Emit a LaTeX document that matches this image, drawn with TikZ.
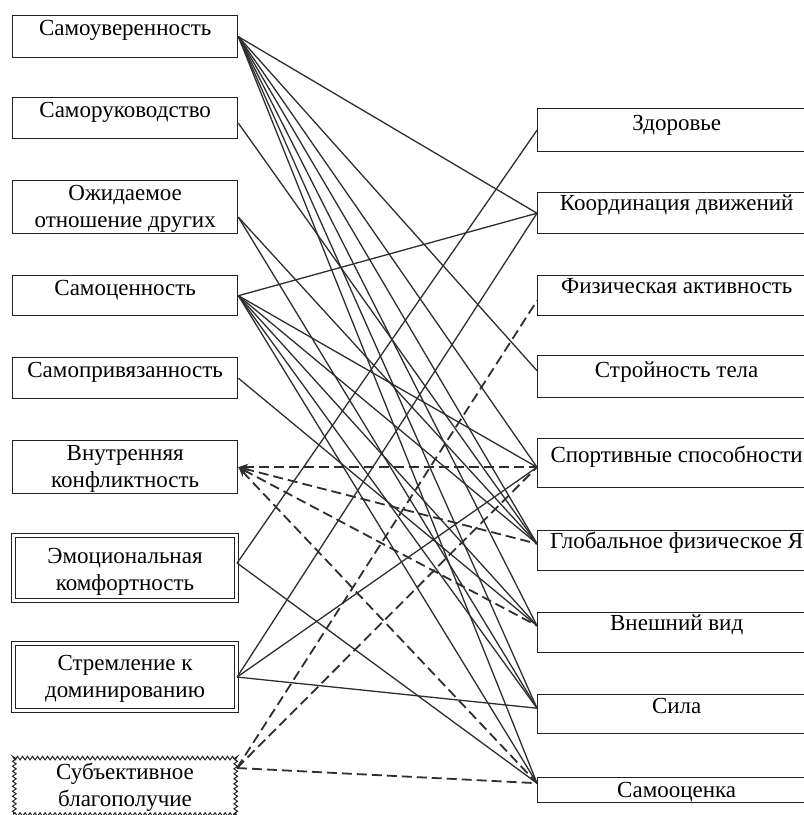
\documentclass[tikz,border=0pt]{standalone}
\usepackage{fontspec}
\setmainfont{Liberation Serif}
\usetikzlibrary{arrows.meta,decorations.pathmorphing}
\definecolor{Ink}{HTML}{222222}
\definecolor{LineInk}{HTML}{2E2E2E}
\tikzset{
  scalebox/.style={draw=Ink,line width=1.4pt,inner xsep=0pt,inner ysep=0pt,align=center,anchor=north west,font=\fontsize{23}{27}\selectfont},
  leftbox/.style={scalebox,minimum width=225pt},
  rightbox/.style={scalebox,minimum width=278pt},
  doublebox/.style={leftbox,minimum width=223pt,double=white,double distance=2.2pt,line width=1.1pt},
  wavybox/.style={leftbox,minimum width=223pt,line width=1pt,decorate,decoration={snake,segment length=5pt,amplitude=1.8pt}},
  link/.style={draw=LineInk,line width=1.3pt},
  dlink/.style={draw=LineInk,line width=1.8pt,dash pattern=on 10pt off 5pt},
  backlink/.style={dlink,{Stealth[length=10pt,width=7pt]}-}
}
\begin{document}
\begin{tikzpicture}[x=1pt,y=-1pt]
\clip (0,0) rectangle (804,815);
% scales of the self-attitude questionnaire
\node[leftbox,text height=20pt,text depth=22pt] (su) at (12,15) {Самоуверенность};
\node[leftbox,text height=20pt,text depth=21pt] (sr) at (12,97) {Саморуководство};
\node[leftbox,text height=47pt,text depth=6pt] (oz) at (12,180) {Ожидаемое\\отношение других};
\node[leftbox,text height=20pt,text depth=20pt] (sc) at (12,275) {Самоценность};
\node[leftbox,text height=20pt,text depth=21pt] (sp) at (12,357) {Самопривязанность};
\node[leftbox,text height=47pt,text depth=6pt] (vk) at (12,440) {Внутренняя\\конфликтность};
\node[doublebox,text height=55pt,text depth=10pt] (ek) at (13,535) {Эмоциональная\\комфортность};
\node[doublebox,text height=54pt,text depth=13pt] (sd) at (13,643) {Стремление к\\доминированию};
\node[wavybox,text height=53pt,text depth=8pt] (sb) at (13,753) {Субъективное\\благополучие};
% physical self-description scales
\node[rightbox,text height=22pt,text depth=21pt] (zd) at (537,108) {Здоровье};
\node[rightbox,text height=18pt,text depth=23pt] (kd) at (537,192) {Координация движений};
\node[rightbox,text height=18pt,text depth=22pt] (fa) at (537,275) {Физическая активность};
\node[rightbox,text height=22pt,text depth=20pt] (st) at (537,355) {Стройность тела};
\node[rightbox,text height=24pt,text depth=25pt] (ss) at (537,438) {Спортивные способности};
\node[rightbox,text height=18pt,text depth=22pt] (gf) at (537,530) {Глобальное физическое Я};
\node[rightbox,text height=18pt,text depth=22pt] (vv) at (537,612) {Внешний вид};
\node[rightbox,text height=19pt,text depth=20pt] (sl) at (537,694) {Сила};
\node[rightbox,text height=20pt,text depth=5pt] (so) at (537,777) {Самооценка};
% positive links
\draw[link] (su.east) -- (kd.west);
\draw[link] (su.east) -- ([yshift=6pt]st.west);
\draw[link] (su.east) -- ([yshift=-4pt]ss.west);
\draw[link] (su.east) -- ([yshift=7pt]gf.west);
\draw[link] (su.east) -- ([yshift=7pt]vv.west);
\draw[link] (su.east) -- ([yshift=6pt]sl.west);
\draw[link] (su.east) -- ([yshift=7pt]so.west);
\draw[link] ([yshift=-5pt]sr.east) -- ([yshift=7pt]gf.west);
\draw[link] ([yshift=-10pt]oz.east) -- ([yshift=7pt]gf.west);
\draw[link] ([yshift=-10pt]oz.east) -- ([yshift=6pt]sl.west);
\draw[link] (sc.east) -- (kd.west);
\draw[link] (sc.east) -- ([yshift=-4pt]ss.west);
\draw[link] (sc.east) -- ([yshift=7pt]gf.west);
\draw[link] (sc.east) -- ([yshift=7pt]vv.west);
\draw[link] (sc.east) -- ([yshift=6pt]sl.west);
\draw[link] (sc.east) -- ([yshift=7pt]so.west);
\draw[link] (sp.east) -- ([yshift=7pt]vv.west);
\draw[link] ([yshift=5pt]ek.east) -- (zd.west);
\draw[link] ([yshift=5pt]ek.east) -- ([yshift=7pt]so.west);
\draw[link] (sd.east) -- (kd.west);
\draw[link] (sd.east) -- ([yshift=-4pt]ss.west);
\draw[link] (sd.east) -- ([yshift=6pt]sl.west);
% negative links
\draw[backlink] (vk.east) -- ([yshift=-4pt]ss.west);
\draw[backlink] (vk.east) -- ([yshift=7pt]gf.west);
\draw[backlink] (vk.east) -- ([yshift=7pt]vv.west);
\draw[backlink] (vk.east) -- ([yshift=7pt]so.west);
\draw[dlink] ([yshift=16pt]sb.east) -- ([yshift=-5pt]fa.west);
\draw[dlink] ([yshift=16pt]sb.east) -- ([yshift=-4pt]ss.west);
\draw[dlink] ([yshift=16pt]sb.east) -- ([yshift=7pt]so.west);
\end{tikzpicture}
\end{document}
